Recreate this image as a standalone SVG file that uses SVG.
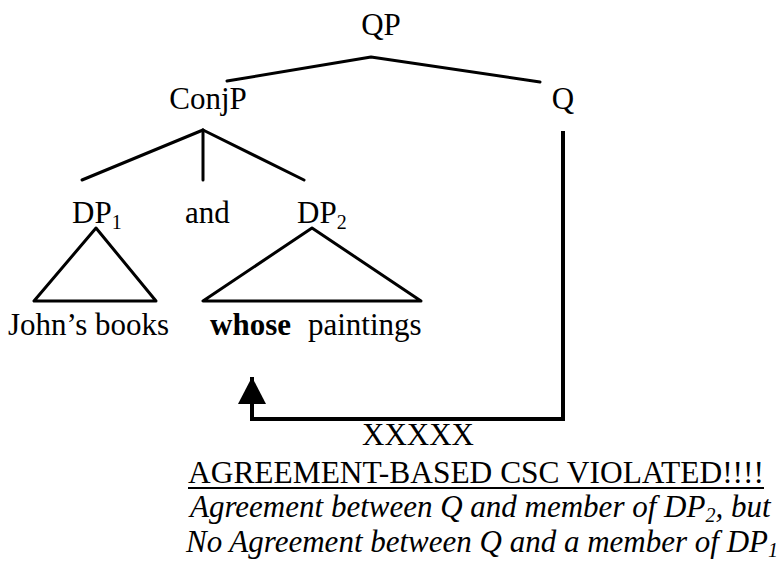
<svg xmlns="http://www.w3.org/2000/svg" width="782" height="565" viewBox="0 0 782 565">
  <style>
    .t { font-family: "Liberation Serif", "Times New Roman", serif; font-size: 31px; fill: #000; }
    .b { font-weight: bold; }
    .i { font-style: italic; }
    .sub { font-size: 20px; }
    .edge { stroke: #000; stroke-width: 3; fill: none; stroke-linecap: round; stroke-linejoin: round; }
    .link { stroke: #000; stroke-width: 4; fill: none; stroke-linejoin: miter; }
  </style>
  <defs>
    <marker id="head" viewBox="0 0 28 27" refX="14" refY="0" markerWidth="28" markerHeight="27" markerUnits="userSpaceOnUse" orient="0">
      <polygon points="14,0 0,27 28,27" fill="#000"/>
    </marker>
  </defs>
  <rect width="782" height="565" fill="#fff"/>

  <!-- tree nodes -->
  <g id="qp"><text class="t" x="381" y="35" text-anchor="middle">QP</text></g>
  <g id="conjp"><text class="t" x="208" y="109" text-anchor="middle">ConjP</text></g>
  <g id="q"><text class="t" x="563" y="109" text-anchor="middle">Q</text></g>
  <g id="dp1"><text class="t" x="72" y="223">DP<tspan class="sub" dy="6">1</tspan></text></g>
  <g id="and"><text class="t" x="185" y="223">and</text></g>
  <g id="dp2"><text class="t" x="297" y="223">DP<tspan class="sub" dy="6">2</tspan></text></g>
  <g id="dp1-yield"><text class="t" x="8" y="335">John’s books</text></g>
  <g id="dp2-yield"><text class="t" x="210" y="335"><tspan class="b">whose</tspan><tspan x="308">paintings</tspan></text></g>

  <!-- branches and agreement path -->
  <g id="connectors">
    <polyline class="edge" points="227,81 371,57 540,82"/>
    <line class="edge" x1="203" y1="130" x2="82" y2="180"/>
    <line class="edge" x1="203" y1="130" x2="203" y2="180"/>
    <line class="edge" x1="203" y1="130" x2="304" y2="180"/>
    <polygon class="edge" points="96,228 34,301 156,301"/>
    <polygon class="edge" points="312,228 203,301 421,301"/>
    <polyline class="link" points="563,131 563,419 252,419 252,377" marker-end="url(#head)"/>
  </g>

  <!-- verdict -->
  <g id="verdict">
    <text class="t" x="418" y="445" text-anchor="middle">XXXXX</text>
    <text class="t" x="188" y="483" textLength="576" lengthAdjust="spacingAndGlyphs">AGREEMENT-BASED CSC VIOLATED!!!!</text>
    <line x1="188" y1="488" x2="764" y2="488" stroke="#000" stroke-width="2"/>
    <text class="t i" x="190" y="517">Agreement between Q and member of DP<tspan class="sub" dy="5">2</tspan><tspan dy="-5">, but</tspan></text>
    <text class="t i" x="186" y="552">No Agreement between Q and a member of DP<tspan class="sub" dy="5">1</tspan></text>
  </g>
</svg>
